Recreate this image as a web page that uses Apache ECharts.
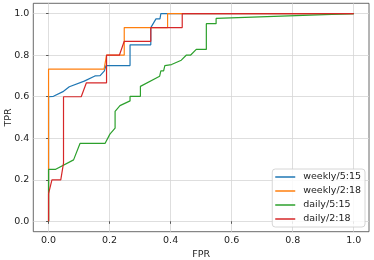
<!DOCTYPE html>
<html>
<head>
<meta charset="utf-8">
<script src="https://cdn.jsdelivr.net/npm/echarts@6/dist/echarts.min.js"></script>
<style>html,body{margin:0;padding:0;background:#fff;}#c{width:374px;height:260px;}</style>
</head>
<body>
<div id="c"></div>
<script>
const tickValues = [0, 0.2, 0.4, 0.6, 0.8, 1.0];
const seriesNames = ['weekly/5:15', 'weekly/2:18', 'daily/5:15', 'daily/2:18'];
const colors = ['#1f77b4', '#ff7f0e', '#2ca02c', '#d62728'];

const fprWeekly515 = [0, 0, 0.016, 0.049, 0.068, 0.117, 0.152, 0.169, 0.183, 0.188, 0.267, 0.267, 0.335, 0.335, 0.352, 0.365, 0.368, 1.0];
const tprWeekly515 = [0, 0.6, 0.602, 0.626, 0.648, 0.675, 0.700, 0.702, 0.725, 0.75, 0.75, 0.85, 0.85, 0.933, 0.975, 0.975, 1.0, 1.0];

const fprWeekly218 = [0, 0, 0.182, 0.19, 0.248, 0.248, 0.39, 0.39, 1.0];
const tprWeekly218 = [0, 0.733, 0.733, 0.8, 0.8, 0.933, 0.933, 1.0, 1.0];

const fprDaily515 = [0, 0, 0.022, 0.082, 0.103, 0.185, 0.201, 0.218, 0.218, 0.234, 0.267, 0.267, 0.301, 0.301, 0.364, 0.368, 0.377, 0.381, 0.403, 0.435, 0.451, 0.465, 0.484, 0.517, 0.517, 0.549, 0.549, 1.0];
const tprDaily515 = [0, 0.25, 0.25, 0.296, 0.375, 0.375, 0.42, 0.449, 0.53, 0.557, 0.58, 0.602, 0.602, 0.65, 0.699, 0.725, 0.725, 0.75, 0.755, 0.776, 0.8, 0.8, 0.828, 0.828, 0.952, 0.952, 0.977, 1.0];

const fprDaily218 = [0, 0, 0.011, 0.04, 0.049, 0.049, 0.107, 0.124, 0.19, 0.19, 0.232, 0.248, 0.335, 0.335, 0.438, 0.438, 1.0];
const tprDaily218 = [0, 0.133, 0.2, 0.2, 0.28, 0.6, 0.6, 0.667, 0.667, 0.8, 0.8, 0.867, 0.867, 0.933, 0.933, 1.0, 1.0];

const fprs = [fprWeekly515, fprWeekly218, fprDaily515, fprDaily218];
const tprs = [tprWeekly515, tprWeekly218, tprDaily515, tprDaily218];

const font = 'DejaVu Sans';
const chart = echarts.init(document.getElementById('c'), null, {renderer: 'canvas'});

function axisCommon(name, isY) {
  return {
    type: 'value',
    min: -0.05,
    max: 1.05,
    name: name,
    nameLocation: 'middle',
    nameGap: isY ? 20 : 18,
    nameRotate: isY ? 90 : 0,
    nameMoveOverlap: false,
    nameTextStyle: {fontFamily: font, fontSize: 9.5, color: '#222'},
    axisLine: {show: false},
    axisTick: {show: true, length: 2.5, inside: false, customValues: tickValues, lineStyle: {color: '#333', width: 0.8}},
    axisLabel: {show: true, customValues: tickValues, margin: 4, fontFamily: font, fontSize: 9.5, color: '#222',
      formatter: v => v.toFixed(1)},
    splitLine: {show: true, lineStyle: {color: '#d6d6d6', width: 0.8}}
  };
}

const series = seriesNames.map((n, i) => ({
  name: n,
  type: 'line',
  symbol: 'none',
  showSymbol: false,
  data: fprs[i].map((x, j) => [x, tprs[i][j]]),
  lineStyle: {color: colors[i], width: 1.2},
  itemStyle: {color: colors[i]},
  animation: false
}));

chart.setOption({
  animation: false,
  backgroundColor: '#fff',
  grid: {left: 33.3, right: 5, top: 3.3, bottom: 28.3, outerBoundsMode: 'none', containLabel: false,
    show: true, borderColor: '#444', borderWidth: 0.8, backgroundColor: 'transparent'},
  xAxis: axisCommon('FPR', false),
  yAxis: axisCommon('TPR', true),
  legend: {
    orient: 'vertical',
    right: 9,
    bottom: 33,
    icon: 'rect',
    itemWidth: 20,
    itemHeight: 1.5,
    itemGap: 4,
    padding: [3, 4, 3, 3],
    borderColor: '#ccc',
    borderWidth: 0.8,
    borderRadius: 3,
    backgroundColor: 'rgba(255,255,255,0.85)',
    textStyle: {fontFamily: font, fontSize: 9.5, color: '#222', lineHeight: 10, padding: [0, 0, 0, 3]},
    data: seriesNames
  },
  series: series
});
</script>
</body>
</html>
